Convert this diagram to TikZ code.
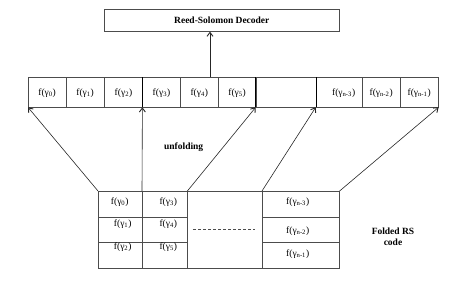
\documentclass[tikz,border=0pt]{standalone}
\usepackage{fontspec}
\setmainfont{Liberation Serif}
\usetikzlibrary{arrows.meta}
\begin{document}
\begin{tikzpicture}[x=1pt,y=-1pt,
  box/.style={draw=black!70, line width=0.6pt, inner sep=0pt, font=\fontsize{9.5}{10}\selectfont},
  rc/.style={box, minimum height=29.7pt, text depth=-3pt},
  gc/.style={box},
  lbl/.style={inner sep=0pt, font=\fontsize{9.5}{10}\selectfont},
  bold/.style={inner sep=0pt, font=\fontsize{9.5}{11}\selectfont\bfseries, align=center},
  sep/.style={line width=1.2pt, black},
  arr/.style={draw=black!85, line width=0.6pt, -{Straight Barb[length=4pt,width=6pt,line width=0.9pt]}}
]
\useasboundingbox (0,0) rectangle (450,281);
% decoder
\node[box, minimum width=235pt, minimum height=22.3pt, font=\fontsize{9.5}{11}\selectfont\bfseries] (dec) at (221.8,20.15) {Reed-Solomon Decoder};
% top row
\node[rc, minimum width=37.7pt] (r0) at (47.15,92.15) {f(γ\textsubscript{0})};
\node[rc, minimum width=38.3pt] (r1) at (85.15,92.15) {f(γ\textsubscript{1})};
\node[rc, minimum width=38.4pt] (r2) at (123.5,92.15) {f(γ\textsubscript{2})};
\node[rc, minimum width=37.6pt] (r3) at (161.5,92.15) {f(γ\textsubscript{3})};
\node[rc, minimum width=38pt] (r4) at (199.3,92.15) {f(γ\textsubscript{4})};
\node[rc, minimum width=37.7pt] (r5) at (237.15,92.15) {f(γ\textsubscript{5})};
\node[rc, minimum width=60pt] (rg) at (286,92.15) {};
\node[rc, minimum width=46.3pt] (r6) at (339.15,92.15) {\hspace*{9pt}f(γ\textsubscript{n-3})};
\node[rc, minimum width=37.7pt] (r7) at (381.15,92.15) {f(γ\textsubscript{n-2})};
\node[rc, minimum width=38.3pt] (r8) at (419.15,92.15) {f(γ\textsubscript{n-1})};
\draw[sep] (r3.north west) -- (r3.south west);
\draw[sep] (rg.north west) -- (rg.south west);
\draw[sep] (rg.north east) -- (rg.south east);
% arrow to decoder
\coordinate (up) at (210,77.3);
\draw[arr] (up) -- (up |- dec.south);
% folded grid
\node[gc, minimum width=44pt, minimum height=25.7pt] (g00) at (120.3,204.15) {};
\node[gc, minimum width=44pt, minimum height=25.3pt] (g01) at (120.3,229.65) {};
\node[gc, minimum width=44pt, minimum height=25.7pt] (g02) at (120.3,255.15) {};
\node[gc, minimum width=45.4pt, minimum height=25.7pt] (g10) at (165,204.15) {};
\node[gc, minimum width=45.4pt, minimum height=25.3pt] (g11) at (165,229.65) {};
\node[gc, minimum width=45.4pt, minimum height=25.7pt] (g12) at (165,255.15) {};
\node[gc, minimum width=74.6pt, minimum height=76.7pt] (mid) at (225,229.65) {};
\node[gc, minimum width=77pt, minimum height=26pt] (g30) at (300.8,204.3) {};
\node[gc, minimum width=77pt, minimum height=25pt] (g31) at (300.8,229.8) {};
\node[gc, minimum width=77pt, minimum height=25.7pt] (g32) at (300.8,255.15) {};
% grid texts
\node[lbl] (t00) at (119.7,202) {f(γ\textsubscript{0})};
\node[lbl] (t01) at (122.7,224) {f(γ\textsubscript{1})};
\node[lbl] (t02) at (122.7,247) {f(γ\textsubscript{2})};
\node[lbl] (t10) at (168.3,202) {f(γ\textsubscript{3})};
\node[lbl] (t11) at (168.3,224) {f(γ\textsubscript{4})};
\node[lbl] (t12) at (168.3,247) {f(γ\textsubscript{5})};
\node[lbl] (t30) at (297.7,202) {f(γ\textsubscript{n-3})};
\node[lbl] (t31) at (297.7,230.7) {f(γ\textsubscript{n-2})};
\node[lbl] (t32) at (297.7,254.3) {f(γ\textsubscript{n-1})};
\coordinate (d1) at (193,229.3);
\coordinate (d2) at (255,229.3);
\draw[black!70, line width=0.6pt, dash pattern=on 2.5pt off 2.5pt] (d1) -- (d2);
% labels
\node[bold] (unf) at (183.7,147.5) {unfolding};
\node[bold] (frs) at (393,237) {Folded RS\\code};
% unfolding arrows
\draw[arr] (g00.north west) -- (r0.south west);
\draw[arr] (g10.north west) -- (r3.south west);
\draw[arr] (mid.north west) -- (rg.south west);
\draw[arr] (g30.north west) -- (r6.south west);
\draw[arr] (g30.north east) -- (r8.south east);
\end{tikzpicture}
\end{document}
